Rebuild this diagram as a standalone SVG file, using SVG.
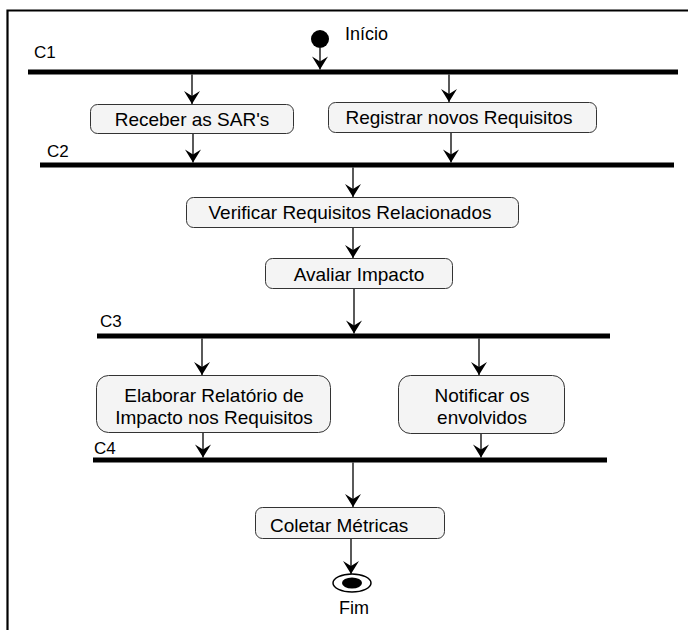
<svg xmlns="http://www.w3.org/2000/svg" width="688" height="630" viewBox="0 0 688 630">
<style>
text{font-family:"Liberation Sans",Arial,sans-serif;font-size:19px;fill:#000}
.lbl{font-size:17px}
.box{fill:#f4f4f4;stroke:#333;stroke-width:1}
.bar{fill:#000}
.edge{stroke:#000;stroke-width:1.3;fill:none;marker-end:url(#ah)}
.mid{text-anchor:middle}
</style>
<defs>
<marker id="ah" markerUnits="userSpaceOnUse" markerWidth="20" markerHeight="20" viewBox="-14 -10 16 20" refX="0" refY="0" orient="auto">
<path d="M0,0 L-13,-8 L-8,0 L-13,8 Z" fill="#000"/>
</marker>
</defs>
<rect width="688" height="630" fill="#fff"/>
<g id="frame"><path d="M7.5,630 V10.5 H688" fill="none" stroke="#000" stroke-width="2.2"/></g>

<g id="start"><circle cx="320" cy="39" r="9" fill="#000"/><text x="345" y="40" style="font-size:18px">Início</text></g>

<g id="C1"><rect class="bar" x="28" y="69.5" width="650" height="5"/><text class="lbl" x="34" y="58">C1</text></g>
<g id="C2"><rect class="bar" x="40" y="162.5" width="634" height="5"/><text class="lbl" x="47" y="157">C2</text></g>
<g id="C3"><rect class="bar" x="97" y="333.5" width="513" height="5"/><text class="lbl" x="100" y="327">C3</text></g>
<g id="C4"><rect class="bar" x="93" y="457.5" width="514" height="5"/><text class="lbl" x="94" y="454">C4</text></g>

<g id="n1"><rect class="box" x="90.5" y="104.5" width="203" height="29" rx="7"/><text class="mid" x="192" y="126">Receber as SAR's</text></g>
<g id="n2"><rect class="box" x="328.5" y="102.5" width="268" height="30" rx="7"/><text class="mid" x="459" y="124">Registrar novos Requisitos</text></g>
<g id="n3"><rect class="box" x="186.5" y="197.5" width="332" height="30" rx="7"/><text class="mid" x="350" y="219">Verificar Requisitos Relacionados</text></g>
<g id="n4"><rect class="box" x="265.5" y="258.5" width="187" height="30" rx="7"/><text class="mid" x="359" y="281">Avaliar Impacto</text></g>
<g id="n5"><rect class="box" x="96.5" y="375.5" width="234" height="57" rx="12"/><text class="mid" x="214" y="402">Elaborar Relatório de</text><text class="mid" x="214" y="424">Impacto nos Requisitos</text></g>
<g id="n6"><rect class="box" x="398.5" y="375.5" width="166" height="58" rx="12"/><text class="mid" x="482" y="402">Notificar os</text><text class="mid" x="482" y="424">envolvidos</text></g>
<g id="n7"><rect class="box" x="255.5" y="507.5" width="189" height="31" rx="7"/><text x="270" y="532">Coletar Métricas</text></g>

<g id="end"><ellipse cx="352" cy="583" rx="19" ry="9" fill="#fff" stroke="#000" stroke-width="1.5"/><ellipse cx="352" cy="583" rx="10" ry="5.5" fill="#000"/><text x="354" y="614" text-anchor="middle" style="font-size:18px">Fim</text></g>

<g id="connectors">
<path class="edge" d="M320,48 V69.5"/>
<path class="edge" d="M192,74.5 V104"/>
<path class="edge" d="M449,74.5 V102"/>
<path class="edge" d="M193,134 V162.5"/>
<path class="edge" d="M451,133 V162.5"/>
<path class="edge" d="M353,167.5 V197"/>
<path class="edge" d="M353,228 V258"/>
<path class="edge" d="M354,289 V333.5"/>
<path class="edge" d="M202,338.5 V375"/>
<path class="edge" d="M479,338.5 V375"/>
<path class="edge" d="M203,433 V457.5"/>
<path class="edge" d="M481,434 V457.5"/>
<path class="edge" d="M353,462.5 V507"/>
<path class="edge" d="M351,539 V574"/>
</g>
</svg>
